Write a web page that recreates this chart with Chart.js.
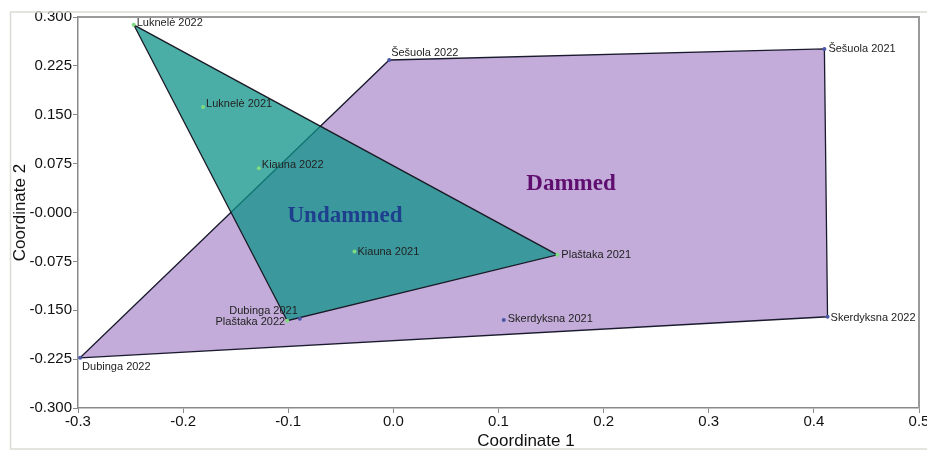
<!DOCTYPE html>
<html>
<head>
<meta charset="utf-8">
<script src="https://cdn.jsdelivr.net/npm/chart.js@4.4.1/dist/chart.umd.min.js"></script>
<style>
  html, body { margin: 0; padding: 0; background: #fff; }
  #wrap { width: 927px; height: 450px; position: relative; }
</style>
</head>
<body>
<div id="wrap"><canvas id="pcoaChart"></canvas></div>
<script>
// Site scores on the first two ordination axes
const undammedSites = ['Luknelė 2022', 'Luknelė 2021', 'Kiauna 2022', 'Kiauna 2021', 'Plaštaka 2021', 'Plaštaka 2022'];
const undammedX = [-0.247, -0.181, -0.128, -0.037, 0.156, -0.101];
const undammedY = [0.288, 0.162, 0.068, -0.060, -0.065, -0.166];

const dammedSites = ['Šešuola 2022', 'Šešuola 2021', 'Skerdyksna 2022', 'Skerdyksna 2021', 'Dubinga 2021', 'Dubinga 2022'];
const dammedX = [-0.004, 0.410, 0.413, 0.105, -0.089, -0.298];
const dammedY = [0.234, 0.251, -0.160, -0.165, -0.163, -0.223];

const groupNames = ['Undammed', 'Dammed'];

const xTickValues = [-0.3, -0.2, -0.1, 0.0, 0.1, 0.2, 0.3, 0.4, 0.5];
const xTickLabels = ['-0.3', '-0.2', '-0.1', '0.0', '0.1', '0.2', '0.3', '0.4', '0.5'];
const yTickValues = [-0.3, -0.225, -0.15, -0.075, 0, 0.075, 0.15, 0.225, 0.3];
const yTickLabels = ['-0.300', '-0.225', '-0.150', '-0.075', '-0.000', '0.075', '0.150', '0.225', '0.300'];

// where each site name sits relative to its point (px)
const labelPlacement = {
  'Luknelė 2022': [3, -2, 'left'],
  'Luknelė 2021': [3, -3, 'left'],
  'Kiauna 2022': [3, -3, 'left'],
  'Kiauna 2021': [3, 0, 'left'],
  'Plaštaka 2021': [4, 0, 'left'],
  'Plaštaka 2022': [-2, 1, 'right'],
  'Šešuola 2022': [2, -7, 'left'],
  'Šešuola 2021': [4, 0, 'left'],
  'Skerdyksna 2022': [3, 1, 'left'],
  'Skerdyksna 2021': [4, -1, 'left'],
  'Dubinga 2021': [-2, -8, 'right'],
  'Dubinga 2022': [2, 9, 'left']
};
// group captions, in data coordinates
const groupLabelPos = { 'Undammed': [-0.046, -0.005], 'Dammed': [0.169, 0.043] };
const groupLabelColor = { 'Undammed': '#1d3f8e', 'Dammed': '#5f0d6f' };

function toPoints(xs, ys) {
  return xs.map((x, i) => ({ x: x, y: ys[i] }));
}

// monotone chain convex hull, returned closed
function convexHull(pts) {
  const p = pts.slice().sort((a, b) => a.x - b.x || a.y - b.y);
  const cross = (o, a, b) => (a.x - o.x) * (b.y - o.y) - (a.y - o.y) * (b.x - o.x);
  const lower = [], upper = [];
  for (const q of p) {
    while (lower.length >= 2 && cross(lower[lower.length - 2], lower[lower.length - 1], q) <= 0) lower.pop();
    lower.push(q);
  }
  for (let i = p.length - 1; i >= 0; i--) {
    const q = p[i];
    while (upper.length >= 2 && cross(upper[upper.length - 2], upper[upper.length - 1], q) <= 0) upper.pop();
    upper.push(q);
  }
  const hull = lower.slice(0, -1).concat(upper.slice(0, -1));
  hull.push(hull[0]);
  return hull;
}

const undammedPts = toPoints(undammedX, undammedY);
const dammedPts = toPoints(dammedX, dammedY);

const siteLabels = {
  id: 'siteLabels',
  afterDatasetsDraw(chart) {
    const ctx = chart.ctx;
    ctx.save();
    ctx.font = '11px "Liberation Sans", Arial, sans-serif';
    ctx.fillStyle = '#222';
    ctx.textBaseline = 'middle';
    chart.data.datasets.forEach((ds, di) => {
      if (!ds.siteNames) return;
      chart.getDatasetMeta(di).data.forEach((pt, i) => {
        const name = ds.siteNames[i];
        const pl = labelPlacement[name] || [3, 0, 'left'];
        ctx.textAlign = pl[2];
        ctx.fillText(name, pt.x + pl[0], pt.y + pl[1]);
      });
    });
    // group captions
    const xs = chart.scales.x, ys = chart.scales.y;
    ctx.font = 'bold 23px "Liberation Serif", "Times New Roman", serif';
    ctx.textAlign = 'center';
    groupNames.forEach(g => {
      const pos = groupLabelPos[g];
      ctx.fillStyle = groupLabelColor[g];
      ctx.fillText(g, xs.getPixelForValue(pos[0]), ys.getPixelForValue(pos[1]));
    });
    ctx.restore();
  },
  afterDraw(chart) {
    const ctx = chart.ctx;
    const a = chart.chartArea;
    ctx.save();
    // outer panel frame
    ctx.strokeStyle = '#dcdcd5';
    ctx.lineWidth = 1.5;
    ctx.strokeRect(10.5, 12, 940, 437);
    // top and right plot border
    ctx.strokeStyle = '#9a9a9a';
    ctx.lineWidth = 2;
    ctx.beginPath();
    ctx.moveTo(a.left, a.top);
    ctx.lineTo(a.right, a.top);
    ctx.lineTo(a.right, a.bottom);
    ctx.stroke();
    // x axis title
    ctx.fillStyle = '#111';
    ctx.font = '17px "Liberation Sans", Arial, sans-serif';
    ctx.textAlign = 'center';
    ctx.textBaseline = 'middle';
    ctx.fillText('Coordinate 1', 526, 441);
    ctx.restore();
  }
};

new Chart(document.getElementById('pcoaChart'), {
  type: 'scatter',
  data: {
    datasets: [
      {
        type: 'line',
        label: groupNames[0],
        data: convexHull(undammedPts),
        fill: 'shape',
        backgroundColor: 'rgba(14, 147, 136, 0.75)',
        borderColor: '#1a1a26',
        borderWidth: 1.3,
        pointRadius: 0,
        tension: 0,
        order: 1
      },
      {
        type: 'line',
        label: groupNames[1],
        data: convexHull(dammedPts),
        fill: 'shape',
        backgroundColor: '#c3acd9',
        borderColor: '#1a1a2e',
        borderWidth: 1.3,
        pointRadius: 0,
        tension: 0,
        order: 2
      },
      {
        label: groupNames[0] + ' sites',
        data: undammedPts,
        siteNames: undammedSites,
        pointRadius: 2,
        pointBackgroundColor: '#7edc7e',
        pointBorderWidth: 0,
        order: 0
      },
      {
        label: groupNames[1] + ' sites',
        data: dammedPts,
        siteNames: dammedSites,
        pointRadius: 2,
        pointBackgroundColor: '#4a56a8',
        pointBorderWidth: 0,
        order: 0
      }
    ]
  },
  options: {
    responsive: true,
    maintainAspectRatio: false,
    animation: false,
    layout: { padding: { left: 10, top: 17, right: 8, bottom: 0 } },
    plugins: { legend: { display: false }, tooltip: { enabled: false } },
    scales: {
      x: {
        type: 'linear',
        min: -0.3,
        max: 0.5,
        afterBuildTicks(scale) { scale.ticks = xTickValues.map(v => ({ value: v })); },
        afterFit(scale) { scale.height = 42; scale.paddingLeft = 0; scale.paddingRight = 0; },
        grid: { drawOnChartArea: false, drawTicks: true, tickLength: 5, color: '#8a8a8a' },
        border: { display: true, color: '#8a8a8a', width: 1.5 },
        ticks: {
          padding: 0,
          maxRotation: 0,
          autoSkip: false,
          color: '#111',
          font: { family: '"Liberation Sans", Arial, sans-serif', size: 15 },
          callback: (v, i) => xTickLabels[i]
        }
      },
      y: {
        type: 'linear',
        min: -0.3,
        max: 0.3,
        afterBuildTicks(scale) { scale.ticks = yTickValues.map(v => ({ value: v })); },
        afterFit(scale) { scale.width = 68; },
        grid: { drawOnChartArea: false, drawTicks: true, tickLength: 5, color: '#8a8a8a' },
        border: { display: true, color: '#8a8a8a', width: 1.5 },
        title: {
          display: true,
          text: 'Coordinate 2',
          color: '#111',
          padding: 0,
          font: { family: '"Liberation Sans", Arial, sans-serif', size: 17 }
        },
        ticks: {
          padding: 1,
          autoSkip: false,
          color: '#111',
          font: { family: '"Liberation Sans", Arial, sans-serif', size: 15 },
          callback: (v, i) => yTickLabels[i]
        }
      }
    }
  },
  plugins: [siteLabels]
});
</script>
</body>
</html>
